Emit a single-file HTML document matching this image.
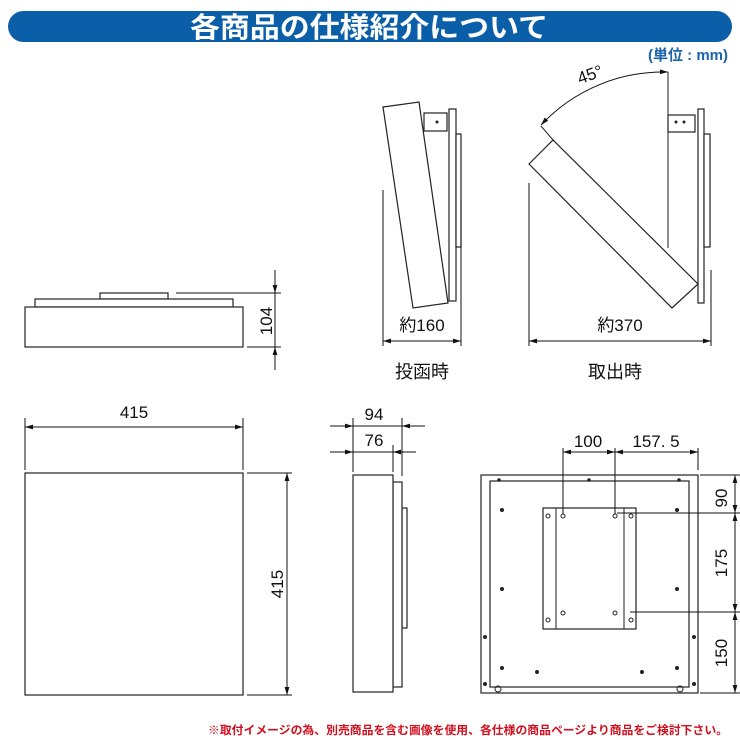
<!DOCTYPE html>
<html><head><meta charset="utf-8"><style>
html,body{margin:0;padding:0;background:#fff;}
svg{display:block;}
text{font-family:"Liberation Sans","Noto Sans CJK JP",sans-serif;}
</style></head><body>
<svg width="740" height="740" viewBox="0 0 740 740" xmlns="http://www.w3.org/2000/svg">
<defs>
<marker id="a" viewBox="0 0 10 10" refX="10" refY="5" markerWidth="8" markerHeight="8" orient="auto-start-reverse"><path d="M0,2 L10,5 L0,8 z" fill="#111"/></marker>
</defs>
<rect x="8" y="11" width="724" height="31" rx="15.5" fill="#0b5ea8"/>
<text x="190" y="37" font-size="28" font-weight="bold" fill="#fff" textLength="358" lengthAdjust="spacingAndGlyphs">各商品の仕様紹介について</text>
<text x="728" y="60" font-size="15" font-weight="bold" fill="#1a63ad" text-anchor="end">(単位 : mm)</text>

<g fill="#fff" stroke="#222" stroke-width="1.2">
<rect x="100" y="293" width="68" height="6"/>
<rect x="35" y="299" width="198" height="8"/>
<rect x="25" y="307" width="218" height="40"/>
<rect x="449" y="109" width="7" height="192"/>
<rect x="456" y="134" width="5" height="113"/>
<rect x="424" y="113" width="23" height="18"/>
<polygon points="383,107 419,102 448,303 413,308"/>
<rect x="698" y="109" width="6" height="194"/>
<rect x="704" y="134" width="6" height="113"/>
<rect x="668" y="115" width="27" height="17"/>
<polygon points="529,164 553,140 698,284 672,308"/>
<rect x="25" y="473" width="218" height="222"/>
<rect x="402" y="508" width="5" height="120"/>
<rect x="393" y="482" width="9" height="205"/>
<rect x="353" y="475" width="40" height="217"/>
<rect x="481" y="475" width="217" height="218"/>
<rect x="490" y="481" width="199" height="206"/>
<rect x="543" y="508" width="93" height="121"/>
</g>
<g stroke="#222" stroke-width="1" fill="none">
<line x1="556" y1="508" x2="556" y2="629"/><line x1="624" y1="508" x2="624" y2="629"/>
<line x1="668" y1="72" x2="668" y2="248"/>
<line x1="541" y1="126" x2="553" y2="140"/>
<circle cx="563" cy="516" r="2"/><circle cx="615" cy="516" r="2"/><circle cx="563" cy="613" r="2"/><circle cx="615" cy="613" r="2"/>
<circle cx="548" cy="516" r="2"/><circle cx="631" cy="516" r="2"/><circle cx="548" cy="620" r="2"/><circle cx="631" cy="620" r="2"/>
<circle cx="498" cy="689" r="3"/><circle cx="680" cy="689" r="3"/>
</g>
<g fill="#222">
<circle cx="499" cy="480" r="1.8"/><circle cx="589" cy="480" r="1.8"/><circle cx="679" cy="480" r="1.8"/>
<circle cx="502" cy="510" r="2"/><circle cx="677" cy="510" r="2"/><circle cx="502" cy="589" r="2"/><circle cx="677" cy="589" r="2"/>
<circle cx="502" cy="668" r="2"/><circle cx="537" cy="672" r="2"/><circle cx="642" cy="672" r="2"/><circle cx="677" cy="668" r="2"/>
<circle cx="485" cy="637" r="2"/><circle cx="694" cy="637" r="2"/><circle cx="485" cy="684" r="2"/><circle cx="694" cy="684" r="2"/>
<circle cx="437" cy="122" r="1.5"/><circle cx="684" cy="122" r="1.5"/><circle cx="676" cy="122" r="1.5"/>
</g>
<g stroke="#111" stroke-width="1" fill="none">
<line x1="176" y1="293" x2="281" y2="293"/><line x1="247" y1="347" x2="281" y2="347"/>
<line x1="275" y1="270" x2="275" y2="293" marker-end="url(#a)"/>
<line x1="275" y1="370" x2="275" y2="347" marker-end="url(#a)"/>
<line x1="275" y1="293" x2="275" y2="347"/>
<line x1="383" y1="190" x2="383" y2="346"/><line x1="461" y1="200" x2="461" y2="346"/>
<line x1="383" y1="341" x2="461" y2="341" marker-start="url(#a)" marker-end="url(#a)"/>
<line x1="529" y1="183" x2="529" y2="346"/><line x1="711" y1="270" x2="711" y2="346"/>
<line x1="529" y1="341" x2="711" y2="341" marker-start="url(#a)" marker-end="url(#a)"/>
<path d="M668,72 A168,168 0 0 0 541,125" marker-start="url(#a)" marker-end="url(#a)"/>
<line x1="25" y1="418" x2="25" y2="470"/><line x1="243" y1="418" x2="243" y2="470"/>
<line x1="25" y1="427" x2="243" y2="427" marker-start="url(#a)" marker-end="url(#a)"/>
<line x1="247" y1="473" x2="292" y2="473"/><line x1="247" y1="695" x2="292" y2="695"/>
<line x1="287" y1="473" x2="287" y2="695" marker-start="url(#a)" marker-end="url(#a)"/>
<line x1="353" y1="418" x2="353" y2="472"/><line x1="402" y1="418" x2="402" y2="476"/><line x1="393" y1="445" x2="393" y2="472"/>
<line x1="330" y1="426" x2="353" y2="426" marker-end="url(#a)"/><line x1="353" y1="426" x2="402" y2="426"/><line x1="425" y1="426" x2="402" y2="426" marker-end="url(#a)"/>
<line x1="330" y1="452" x2="353" y2="452" marker-end="url(#a)"/><line x1="353" y1="452" x2="393" y2="452"/><line x1="416" y1="452" x2="393" y2="452" marker-end="url(#a)"/>
<line x1="563" y1="448" x2="563" y2="514"/><line x1="615" y1="448" x2="615" y2="514"/><line x1="698" y1="448" x2="698" y2="470"/>
<line x1="563" y1="452" x2="615" y2="452" marker-start="url(#a)" marker-end="url(#a)"/>
<line x1="615" y1="452" x2="698" y2="452" marker-start="url(#a)" marker-end="url(#a)"/>
<line x1="700" y1="475" x2="740" y2="475"/><line x1="617" y1="513" x2="740" y2="513"/><line x1="630" y1="612" x2="740" y2="612"/><line x1="700" y1="693" x2="740" y2="693"/>
<line x1="735" y1="475" x2="735" y2="513" marker-start="url(#a)" marker-end="url(#a)"/>
<line x1="735" y1="513" x2="735" y2="612" marker-start="url(#a)" marker-end="url(#a)"/>
<line x1="735" y1="612" x2="735" y2="693" marker-start="url(#a)" marker-end="url(#a)"/>
</g>
<g font-size="17" fill="#111" text-anchor="middle">
<text transform="translate(272,321) rotate(-90)">104</text>
<text x="422" y="331">約160</text>
<text x="620" y="331">約370</text>
<text transform="translate(592,80) rotate(-20)">45°</text>
<text x="422" y="378" font-size="18">投函時</text>
<text x="615" y="378" font-size="18">取出時</text>
<text x="134" y="418">415</text>
<text transform="translate(283,584) rotate(-90)">415</text>
<text x="374" y="420">94</text>
<text x="374" y="446">76</text>
<text x="588" y="447">100</text>
<text x="656" y="447">157. 5</text>
<text transform="translate(727,498) rotate(-90)">90</text>
<text transform="translate(727,563) rotate(-90)">175</text>
<text transform="translate(727,653) rotate(-90)">150</text>
</g>
<text x="208" y="734" font-size="11.5" font-weight="bold" fill="#d0101e" textLength="520" lengthAdjust="spacingAndGlyphs">※取付イメージの為、別売商品を含む画像を使用、各仕様の商品ページより商品をご検討下さい。</text>
</svg>
</body></html>
